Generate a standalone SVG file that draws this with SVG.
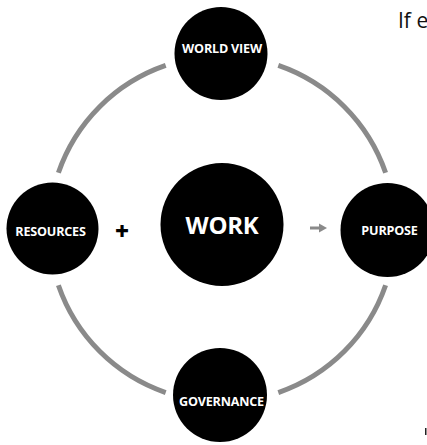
<svg xmlns="http://www.w3.org/2000/svg" width="427" height="445" viewBox="0 0 427 445">
  <style>
    .ring { fill: none; stroke: #8a8a8a; stroke-width: 5; }
    .node { fill: #000; }
    .lbl { fill: #fff; font-family: "Open Sans", "Noto Sans", sans-serif; font-weight: bold; font-size: 12.6px; text-anchor: middle; letter-spacing: -0.2px; }
    .big { font-size: 24px; letter-spacing: -0.3px; }
  </style>
  <rect width="427" height="445" fill="#fff"/>
  <g id="connectors">
    <path class="ring" d="M 278.3 65.4 A 173 173 0 0 1 385.6 172.7"/>
    <path class="ring" d="M 385.6 285.3 A 173 173 0 0 1 278.3 392.6"/>
    <path class="ring" d="M 165.7 392.6 A 173 173 0 0 1 58.4 285.3"/>
    <path class="ring" d="M 58.4 172.7 A 173 173 0 0 1 165.7 65.4"/>
    <g id="arrow">
      <rect x="310" y="226.5" width="11" height="3" fill="#8a8a8a"/>
      <polygon points="319,223.5 327,228 319,232.5" fill="#8a8a8a"/>
    </g>
    <text x="122" y="239.5" font-family="Open Sans, Noto Sans, sans-serif" font-weight="800" font-size="24" text-anchor="middle" fill="#000">+</text>
  </g>
  <g id="worldview">
    <circle class="node" cx="221" cy="53.5" r="46.5"/>
    <text class="lbl" x="222" y="53">WORLD VIEW</text>
  </g>
  <g id="resources">
    <circle class="node" cx="52.5" cy="228.5" r="46"/>
    <text class="lbl" x="50.5" y="235.5">RESOURCES</text>
  </g>
  <g id="work">
    <circle class="node" cx="222" cy="224.5" r="61.5"/>
    <text class="lbl big" x="222" y="234">WORK</text>
  </g>
  <g id="purpose">
    <circle class="node" cx="387.5" cy="230" r="47"/>
    <text class="lbl" x="389.5" y="235">PURPOSE</text>
  </g>
  <g id="governance">
    <circle class="node" cx="220" cy="395" r="47"/>
    <text class="lbl" x="221.5" y="405.5">GOVERNANCE</text>
  </g>
  <text x="398" y="28" font-family="Open Sans, Noto Sans, sans-serif" font-size="21" fill="#111">If e</text>
  <rect x="425" y="428" width="1.5" height="7" fill="#222"/>
</svg>
